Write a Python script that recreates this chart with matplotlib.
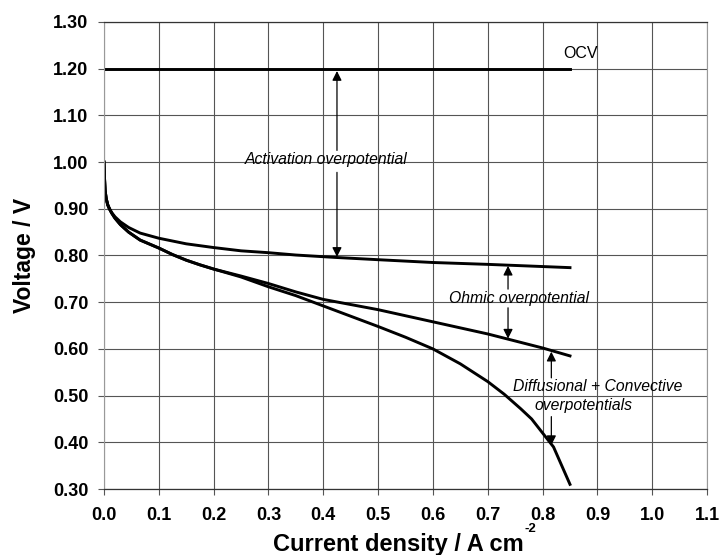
import matplotlib
matplotlib.use("Agg")
import matplotlib.pyplot as plt

plt.rcParams['font.family'] = ['Liberation Sans', 'DejaVu Sans']

# Open-circuit voltage
ocv_x = [0.0, 0.85]
ocv_v = [1.20, 1.20]

# Polarisation curve with activation losses only
act_x = [0.0, 0.001, 0.002, 0.004, 0.007, 0.01, 0.014, 0.02, 0.03, 0.045, 0.066,
         0.1, 0.15, 0.2, 0.25, 0.3, 0.35, 0.42, 0.5, 0.6, 0.7, 0.85]
act_v = [1.0, 0.965, 0.94, 0.922, 0.908, 0.90, 0.892, 0.883, 0.872, 0.860, 0.848,
         0.837, 0.825, 0.817, 0.81, 0.806, 0.801, 0.796, 0.791, 0.785, 0.781, 0.774]

# Activation + ohmic losses
ohm_x = [0.0, 0.001, 0.002, 0.004, 0.007, 0.01, 0.014, 0.02, 0.03, 0.045, 0.066,
         0.1, 0.125, 0.15, 0.175, 0.2, 0.25, 0.3, 0.35, 0.4, 0.45, 0.5, 0.6, 0.7,
         0.8, 0.85]
ohm_v = [1.0, 0.965, 0.94, 0.922, 0.908, 0.90, 0.891, 0.880, 0.866, 0.850, 0.833,
         0.816, 0.802, 0.790, 0.780, 0.771, 0.756, 0.740, 0.722, 0.706, 0.695,
         0.684, 0.658, 0.632, 0.602, 0.585]

# Full curve including diffusional and convective losses
full_x = [0.0, 0.001, 0.002, 0.004, 0.007, 0.01, 0.014, 0.02, 0.03, 0.045, 0.066,
          0.1, 0.125, 0.15, 0.175, 0.2, 0.25, 0.3, 0.35, 0.4, 0.45, 0.5, 0.55,
          0.6, 0.65, 0.7, 0.73, 0.76, 0.78, 0.8, 0.82, 0.835, 0.85]
full_v = [1.0, 0.965, 0.94, 0.922, 0.908, 0.90, 0.891, 0.880, 0.866, 0.850, 0.833,
          0.816, 0.802, 0.790, 0.780, 0.771, 0.754, 0.733, 0.714, 0.692, 0.670,
          0.648, 0.625, 0.600, 0.568, 0.530, 0.503, 0.472, 0.450, 0.420, 0.390,
          0.350, 0.310]

x_ticks = [0.0, 0.1, 0.2, 0.3, 0.4, 0.5, 0.6, 0.7, 0.8, 0.9, 1.0, 1.1]
y_ticks = [0.30, 0.40, 0.50, 0.60, 0.70, 0.80, 0.90, 1.00, 1.10, 1.20, 1.30]

fig = plt.figure(figsize=(7.2, 5.55), dpi=100)
ax = fig.add_axes([0.1444, 0.1189, 0.8376, 0.8415])

ax.set_xlim(0, 1.1)
ax.set_ylim(0.30, 1.30)
ax.set_xticks(x_ticks)
ax.set_yticks(y_ticks)
ax.set_xticklabels([f"{t:.1f}" for t in x_ticks], fontsize=13, fontweight='bold')
ax.set_yticklabels([f"{t:.2f}" for t in y_ticks], fontsize=13, fontweight='bold')
ax.tick_params(axis='y', direction='out', length=4.3, width=0.8, color='#555555', pad=7)
ax.tick_params(axis='x', direction='out', length=4.3, width=0.8, color='#555555', pad=9)
ax.grid(True, color='#555555', lw=0.8)
ax.set_axisbelow(True)
for side in ['left', 'right']:
    ax.spines[side].set_color('#999999')
    ax.spines[side].set_linewidth(0.8)
for side in ['top', 'bottom']:
    ax.spines[side].set_color('#333333')
    ax.spines[side].set_linewidth(0.9)

lw = 2.1
ax.plot(ocv_x, ocv_v, color='black', lw=lw)
ax.plot(act_x, act_v, color='black', lw=lw)
ax.plot(ohm_x, ohm_v, color='black', lw=lw)
ax.plot(full_x, full_v, color='black', lw=lw)

ax.set_ylabel("Voltage / V", fontsize=16.5, fontweight='bold', labelpad=12)

# x-axis title with a small superscript exponent
xlab = fig.text(0.379, 0.0072, "Current density / A cm", fontsize=17,
                fontweight='bold', ha='left', va='baseline')
fig.canvas.draw()
bb = xlab.get_window_extent()
fig.text(bb.x1 / fig.bbox.width + 0.001, 0.0072 + 0.035, "-2", fontsize=9.5,
         fontweight='bold', ha='left', va='baseline')

ap = dict(arrowstyle='-|>', color='black', lw=0.9, mutation_scale=14, shrinkA=0, shrinkB=0)
tfs = 11.3

ax.text(0.838, 1.232, "OCV", fontsize=11.5, ha='left', va='center')

# Activation overpotential
ax.text(0.405, 1.005, "Activation overpotential", fontsize=tfs, style='italic',
        ha='center', va='center')
ax.annotate("", xy=(0.425, 1.195), xytext=(0.425, 1.025), arrowprops=ap)
ax.annotate("", xy=(0.425, 0.797), xytext=(0.425, 0.978), arrowprops=ap)

# Ohmic overpotential
ax.text(0.757, 0.707, "Ohmic overpotential", fontsize=tfs, style='italic',
        ha='center', va='center')
ax.annotate("", xy=(0.737, 0.778), xytext=(0.737, 0.728), arrowprops=ap)
ax.annotate("", xy=(0.737, 0.622), xytext=(0.737, 0.688), arrowprops=ap)

# Diffusional + convective overpotentials
ax.text(0.90, 0.520, "Diffusional + Convective", fontsize=tfs, style='italic',
        ha='center', va='center')
ax.text(0.874, 0.478, "overpotentials", fontsize=tfs, style='italic',
        ha='center', va='center')
ax.annotate("", xy=(0.816, 0.594), xytext=(0.816, 0.538), arrowprops=ap)
ax.annotate("", xy=(0.816, 0.394), xytext=(0.816, 0.455), arrowprops=ap)

fig.savefig("out.png", dpi=100)
